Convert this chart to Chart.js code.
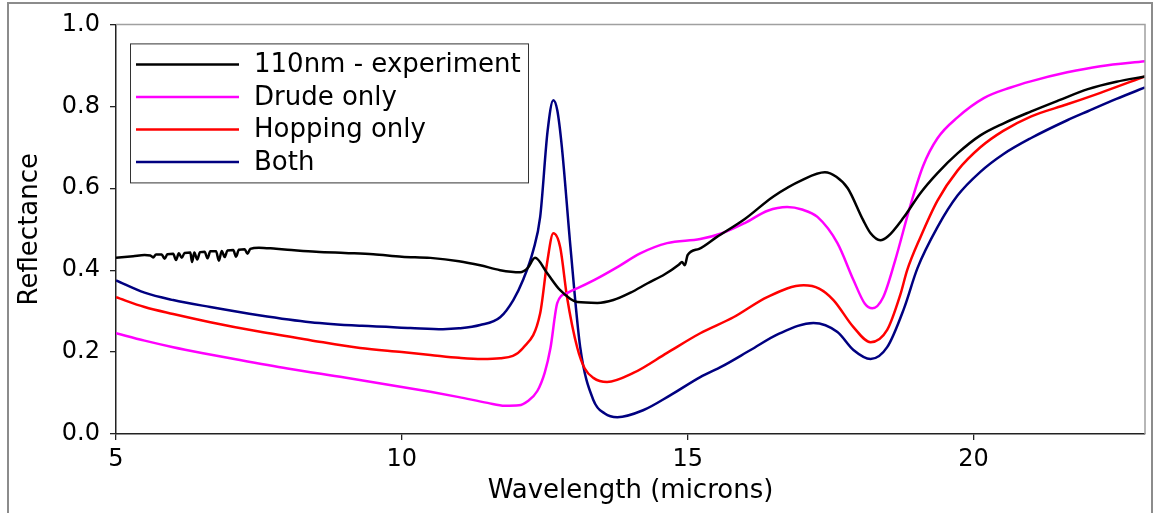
<!DOCTYPE html>
<html>
<head>
<meta charset="utf-8">
<script src="https://cdn.jsdelivr.net/npm/chart.js@4.4.1/dist/chart.umd.min.js"></script>
<style>
  body { margin: 0; background: #fff; }
  #wrap { position: relative; width: 1154px; height: 513px; overflow: hidden; }
  #frame { position: absolute; left: 7px; top: 2px; width: 1142px; height: 560px;
           border: 2px solid #8c8c8c; pointer-events: none; }
</style>
</head>
<body>
<div id="wrap">
  <canvas id="chart" width="1154" height="513"></canvas>
  <div id="frame"></div>
</div>
<script>
// wavelength (microns) / reflectance
var expX = [5.0, 5.3, 5.5, 5.6, 5.65, 5.7, 5.8, 5.85, 5.9, 6.0, 6.05, 6.1, 6.15, 6.2, 6.3, 6.33, 6.37, 6.42, 6.47, 6.55, 6.6, 6.65,
            6.75, 6.8, 6.85, 6.9, 6.95, 7.05, 7.1, 7.15, 7.25, 7.3, 7.35, 7.5, 7.8,
            8.0, 8.5, 9.0, 9.5, 10.0, 10.5, 11.0, 11.37, 11.72, 12.07, 12.2, 12.33, 12.54, 12.77, 13.07, 13.42, 13.7,
            14.0, 14.3, 14.6, 14.85, 14.9, 14.95, 15.0, 15.2, 15.5, 16.0, 16.5, 17.0, 17.4, 17.6, 17.8, 18.07, 18.2, 18.37,
            18.5, 18.78, 19.07, 19.37, 19.72, 20.12, 20.52, 21.0, 21.5, 22.0, 22.5, 23.0];
var expY = [0.430, 0.434, 0.437, 0.436, 0.431, 0.438, 0.438, 0.428, 0.439, 0.440, 0.425, 0.441, 0.430, 0.442, 0.443, 0.420, 0.443,
            0.426, 0.444, 0.445, 0.429, 0.446, 0.446, 0.423, 0.447, 0.432, 0.448, 0.449, 0.433, 0.450, 0.451, 0.440, 0.452,
            0.455, 0.452, 0.450, 0.445, 0.442, 0.439, 0.433, 0.430, 0.422, 0.412, 0.400, 0.395, 0.405, 0.430, 0.393, 0.351,
            0.322, 0.320, 0.327, 0.345, 0.368, 0.390, 0.414, 0.420, 0.412, 0.437, 0.452, 0.480, 0.525, 0.580, 0.620, 0.639,
            0.628, 0.600, 0.522, 0.490, 0.473, 0.482, 0.529, 0.588, 0.637, 0.685, 0.729, 0.758, 0.787, 0.815, 0.842, 0.860, 0.873];

var drudeX = [5.0, 5.5, 6.0, 6.5, 7.0, 8.0, 9.0, 10.0, 10.5, 11.0, 11.5, 11.8, 12.05, 12.2, 12.37, 12.5, 12.6, 12.72, 12.89, 13.12,
              13.42, 13.8, 14.17, 14.64, 15.22, 15.6, 16.0, 16.4, 16.74, 17.0, 17.27, 17.62, 17.9, 18.1, 18.23, 18.42, 18.63,
              18.9, 19.12, 19.37, 19.72, 20.18, 20.65, 21.0, 21.64, 22.22, 23.0];
var drudeY = [0.246, 0.228, 0.212, 0.198, 0.185, 0.160, 0.138, 0.115, 0.103, 0.090, 0.076, 0.069, 0.070, 0.080, 0.105, 0.150, 0.210,
              0.320, 0.344, 0.359, 0.380, 0.410, 0.441, 0.466, 0.476, 0.490, 0.515, 0.545, 0.554, 0.548, 0.530, 0.466, 0.376, 0.318,
              0.307, 0.334, 0.424, 0.560, 0.655, 0.722, 0.773, 0.820, 0.846, 0.861, 0.883, 0.898, 0.910];

var hopX = [5.0, 5.5, 6.0, 6.65, 7.5, 8.4, 9.27, 10.0, 10.5, 11.0, 11.4, 11.72, 12.12, 12.42, 12.54, 12.65, 12.77, 12.89, 13.07, 13.2,
            13.35, 13.59, 14.05, 14.64, 15.22, 15.8, 16.4, 17.03, 17.3, 17.55, 17.9, 18.2, 18.49, 18.72, 18.84, 19.07, 19.37,
            19.72, 20.12, 20.52, 21.0, 21.64, 22.22, 23.0];
var hopY = [0.334, 0.310, 0.293, 0.273, 0.250, 0.229, 0.210, 0.200, 0.193, 0.186, 0.183, 0.185, 0.210, 0.295, 0.417, 0.490, 0.456,
            0.334, 0.210, 0.160, 0.137, 0.127, 0.149, 0.198, 0.246, 0.285, 0.335, 0.363, 0.355, 0.327, 0.261, 0.224, 0.254, 0.340,
            0.400, 0.480, 0.570, 0.643, 0.700, 0.740, 0.775, 0.805, 0.833, 0.873];

var bothX = [5.0, 5.5, 6.0, 6.65, 7.5, 8.4, 9.3, 10.15, 10.72, 11.0, 11.37, 11.72, 11.95, 12.12, 12.3, 12.42, 12.55, 12.65, 12.72,
             12.8, 12.95, 13.12, 13.35, 13.55, 13.77, 14.22, 14.7, 15.22, 15.6, 16.1, 16.6, 17.2, 17.62, 17.9, 18.2, 18.49, 18.78,
             19.02, 19.37, 19.72, 20.12, 20.52, 21.0, 21.64, 22.0, 22.5, 23.0];
var bothY = [0.375, 0.345, 0.327, 0.310, 0.290, 0.273, 0.264, 0.259, 0.256, 0.258, 0.266, 0.285, 0.327, 0.376, 0.449, 0.530, 0.740,
             0.815, 0.790, 0.700, 0.456, 0.212, 0.083, 0.050, 0.041, 0.058, 0.095, 0.139, 0.165, 0.205, 0.245, 0.271, 0.249, 0.205,
             0.183, 0.212, 0.305, 0.405, 0.505, 0.582, 0.640, 0.683, 0.722, 0.766, 0.788, 0.818, 0.846];

var seriesNames = ['110nm - experiment', 'Drude only', 'Hopping only', 'Both'];
var seriesColors = ['#000000', '#ff00ff', '#ff0000', '#000080'];
var yTicks = [0, 0.2, 0.4, 0.6, 0.8, 1.0];
var xTicks = [5, 10, 15, 20];

var font = 'DejaVu Sans';

function toPoints(xs, ys) {
    return xs.map(function(x, i) { return {x: x, y: ys[i]}; });
}

function makeSet(i, xs, ys) {
    return {
        label: seriesNames[i],
        data: toPoints(xs, ys),
        borderColor: seriesColors[i],
        backgroundColor: seriesColors[i],
        borderWidth: 2.5,
        pointRadius: 0,
        cubicInterpolationMode: 'monotone',
        fill: false
    };
}

// gray top/right spines + legend box in the upper left
var framePlugin = {
    id: 'frame',
    afterDraw: function(chart) {
        var ctx = chart.ctx;
        var a = chart.chartArea;
        ctx.save();
        ctx.strokeStyle = '#a0a0a0';
        ctx.lineWidth = 1.5;
        ctx.beginPath();
        ctx.moveTo(a.left, a.top);
        ctx.lineTo(a.right, a.top);
        ctx.lineTo(a.right, a.bottom);
        ctx.stroke();

        var bx = a.left + 14, by = a.top + 19, bw = 398, bh = 139;
        ctx.fillStyle = '#ffffff';
        ctx.fillRect(bx, by, bw, bh);
        ctx.strokeStyle = '#333333';
        ctx.lineWidth = 1;
        ctx.strokeRect(bx + 0.5, by + 0.5, bw, bh);

        ctx.font = '26px "' + font + '"';
        ctx.textBaseline = 'middle';
        ctx.textAlign = 'left';
        chart.data.datasets.forEach(function(ds, i) {
            var y = by + 21 + i * 32.5;
            ctx.strokeStyle = ds.borderColor;
            ctx.lineWidth = 2.5;
            ctx.beginPath();
            ctx.moveTo(bx + 6, y);
            ctx.lineTo(bx + 109, y);
            ctx.stroke();
            ctx.fillStyle = '#000000';
            ctx.fillText(ds.label, bx + 124, y + 1);
        });
        ctx.restore();
    }
};

var ctx = document.getElementById('chart').getContext('2d');
new Chart(ctx, {
    type: 'line',
    data: {
        datasets: [
            makeSet(0, expX, expY),
            makeSet(1, drudeX, drudeY),
            makeSet(2, hopX, hopY),
            makeSet(3, bothX, bothY)
        ]
    },
    options: {
        responsive: false,
        animation: false,
        layout: { padding: { top: 24, right: 9, left: 0, bottom: 0 } },
        plugins: {
            legend: { display: false },
            tooltip: { enabled: false }
        },
        scales: {
            x: {
                type: 'linear',
                min: 5,
                max: 23,
                afterFit: function(s) { s.height = 79; },
                afterBuildTicks: function(s) { s.ticks = xTicks.map(function(v) { return {value: v}; }); },
                grid: { drawOnChartArea: false, drawTicks: true, tickLength: 6, color: '#222', lineWidth: 1.3 },
                border: { display: true, color: '#222', width: 1.5 },
                ticks: { color: '#000', padding: 5, font: { family: font, size: 24 },
                         callback: function(v) { return String(v); } },
                title: { display: true, text: 'Wavelength (microns)', color: '#000',
                         font: { family: font, size: 26 }, padding: { top: 0, bottom: 6 } }
            },
            y: {
                min: 0,
                max: 1.0,
                afterFit: function(s) { s.width = 116; },
                afterBuildTicks: function(s) { s.ticks = yTicks.map(function(v) { return {value: v}; }); },
                grid: { drawOnChartArea: false, drawTicks: true, tickLength: 6, color: '#222', lineWidth: 1.3 },
                border: { display: true, color: '#222', width: 1.5 },
                ticks: { color: '#000', padding: 10, font: { family: font, size: 24 },
                         callback: function(v) { return v.toFixed(1); } },
                title: { display: true, text: 'Reflectance', color: '#000',
                         font: { family: font, size: 26 }, padding: { top: 15, bottom: 0 } }
            }
        }
    },
    plugins: [framePlugin]
});
</script>
</body>
</html>
